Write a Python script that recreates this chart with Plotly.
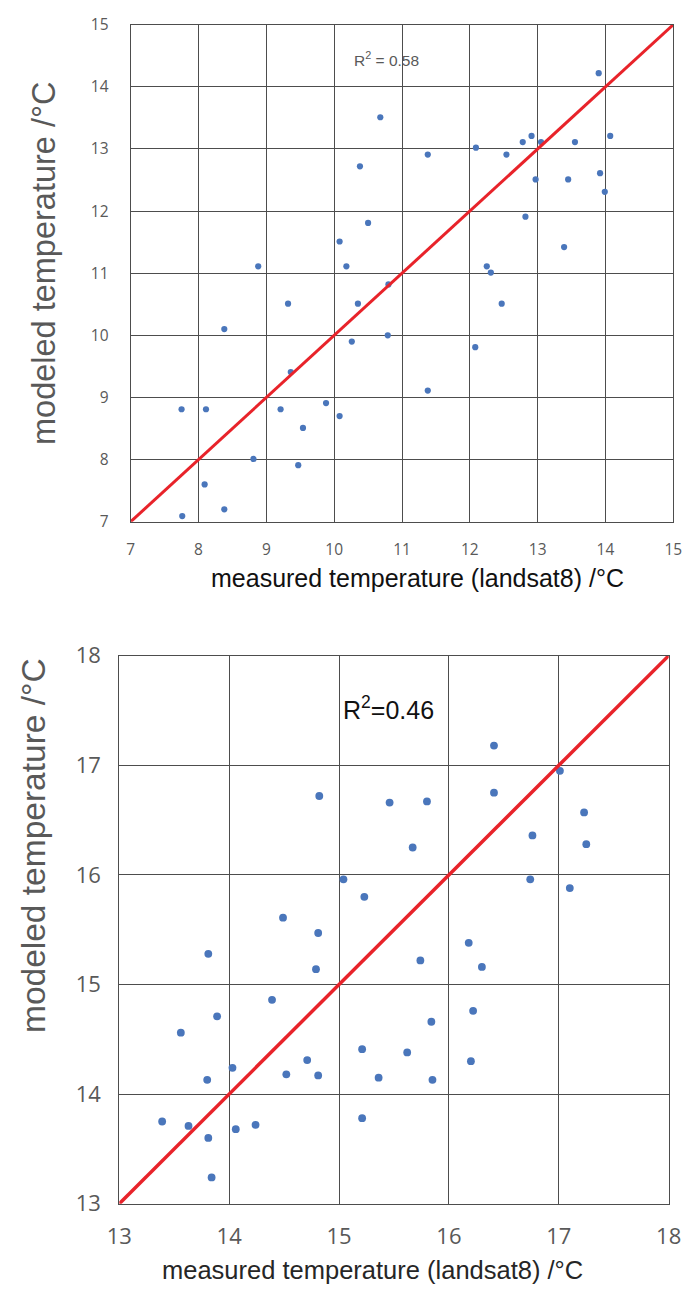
import plotly.graph_objects as go

# ---- Data: top chart ----
top_measured = [10.68, 10.38, 10.50, 10.08, 8.88, 10.18,
                13.90, 12.91, 12.78, 13.05, 13.55, 14.07, 12.09, 11.38, 12.54, 13.92,
                12.97, 13.45, 13.99, 12.82, 13.39, 12.25,
                12.31, 12.47, 12.08, 11.38,
                10.80, 9.32, 10.35, 8.38, 10.79, 10.26, 9.36, 9.88, 7.75, 8.11, 9.21,
                10.08, 9.54, 8.81, 9.47, 8.09, 8.38, 7.76]
top_modeled = [13.51, 12.72, 11.81, 11.51, 11.11, 11.11,
               14.22, 13.21, 13.11, 13.11, 13.11, 13.21, 13.02, 12.91, 12.91, 12.61,
               12.51, 12.51, 12.31, 11.91, 11.42, 11.11,
               11.01, 10.51, 9.81, 9.11,
               10.82, 10.51, 10.51, 10.10, 10.00, 9.90, 9.41, 8.91, 8.81, 8.81, 8.81,
               8.70, 8.51, 8.01, 7.91, 7.60, 7.20, 7.09]
top_line = [7, 15]
top_ticks = [7, 8, 9, 10, 11, 12, 13, 14, 15]
top_r2 = "R<sup>2</sup> = 0.58"

# ---- Data: bottom chart ----
bot_measured = [14.82, 15.46, 15.04, 15.23, 14.49,
                16.41, 15.80, 16.41, 17.01, 15.67, 17.23, 16.76, 17.25, 16.74, 17.10,
                14.81, 13.81, 14.79, 14.39, 13.89, 13.56, 14.03, 13.80, 14.71, 14.52,
                14.81, 15.21, 15.36, 13.39, 13.63, 13.81, 14.06, 14.24, 15.21, 13.84,
                15.74, 16.18, 16.30, 15.84, 16.22, 15.62, 16.20, 15.85]
bot_modeled = [16.72, 16.66, 15.96, 15.80, 15.61,
               17.18, 16.67, 16.75, 16.95, 16.25, 16.57, 16.36, 16.28, 15.96, 15.88,
               15.47, 15.28, 15.14, 14.86, 14.71, 14.56, 14.24, 14.13, 14.31, 14.18,
               14.17, 14.41, 14.15, 13.75, 13.71, 13.60, 13.68, 13.72, 13.78, 13.24,
               15.22, 15.38, 15.16, 14.66, 14.76, 14.38, 14.30, 14.13]
bot_line = [13, 18]
bot_ticks = [13, 14, 15, 16, 17, 18]
bot_r2 = "R<sup>2</sup>=0.46"

x_title = "measured temperature (landsat8) /°C"
y_title = "modeled temperature /°C"

W, H = 684, 1293
BLUE = "#4a76bb"
RED = "#e8232a"
GRID = "#4d4d4d"
TICKC = "#595959"


def rx(p):
    return p / W


def ry(p):
    return 1 - p / H


fig = go.Figure()
fig.add_trace(go.Scatter(x=top_measured, y=top_modeled, mode="markers",
                         marker=dict(color=BLUE, size=6.2), xaxis="x", yaxis="y",
                         showlegend=False))
fig.add_trace(go.Scatter(x=top_line, y=top_line, mode="lines",
                         line=dict(color=RED, width=3), xaxis="x", yaxis="y",
                         showlegend=False))
fig.add_trace(go.Scatter(x=bot_measured, y=bot_modeled, mode="markers",
                         marker=dict(color=BLUE, size=7.8), xaxis="x2", yaxis="y2",
                         showlegend=False))
fig.add_trace(go.Scatter(x=bot_line, y=bot_line, mode="lines",
                         line=dict(color=RED, width=3.5), xaxis="x2", yaxis="y2",
                         showlegend=False))


def axis(domain, rng, ticks, size, standoff, anchor):
    return dict(domain=domain, range=rng, tickvals=ticks, showgrid=True,
                gridcolor=GRID, gridwidth=1, zeroline=False, showline=True,
                linecolor=GRID, linewidth=1, mirror=True, ticks="",
                ticklabelstandoff=standoff, anchor=anchor, automargin=False,
                tickfont=dict(family="Open Sans", size=size, color=TICKC))


fig.update_layout(
    width=W, height=H, autosize=False,
    margin=dict(l=0, r=0, t=0, b=0, pad=0, autoexpand=False),
    paper_bgcolor="white", plot_bgcolor="white",
    xaxis=axis([rx(130.7), rx(673.3)], [7, 15], top_ticks, 15.5, 14, "y"),
    yaxis=axis([ry(521.7), ry(24.7)], [7, 15], top_ticks, 15.5, 18, "x"),
    xaxis2=axis([rx(119.3), rx(668.7)], [13, 18], bot_ticks, 22, 13, "y2"),
    yaxis2=axis([ry(1203.7), ry(655.7)], [13, 18], bot_ticks, 22, 13, "x2"),
)

ann = [
    dict(text=top_r2, x=rx(386), y=ry(59), font=dict(family="Liberation Sans", size=15.5, color=TICKC)),
    dict(text=bot_r2, x=rx(389), y=ry(708), font=dict(family="Liberation Sans", size=25, color="#111111")),
    dict(text=x_title, x=rx(417), y=ry(578), font=dict(family="Liberation Sans", size=25, color="#111111")),
    dict(text=x_title, x=rx(372), y=ry(1270), font=dict(family="Liberation Sans", size=25.5, color="#262626")),
    dict(text=y_title, x=rx(44), y=ry(264), textangle=-90, font=dict(family="Liberation Sans", size=32.5, color=TICKC)),
    dict(text=y_title, x=rx(33), y=ry(846), textangle=-90, font=dict(family="Liberation Sans", size=33.5, color=TICKC)),
]
for a in ann:
    a.update(xref="paper", yref="paper", showarrow=False, xanchor="center", yanchor="middle")
    fig.add_annotation(**a)

post = ("document.documentElement.style.margin='0';document.body.style.margin='0';"
        "document.body.style.padding='0';"
        "document.documentElement.style.overflow='hidden';document.body.style.overflow='hidden';")
fig.write_html("out.html", post_script=post, config=dict(displayModeBar=False))
